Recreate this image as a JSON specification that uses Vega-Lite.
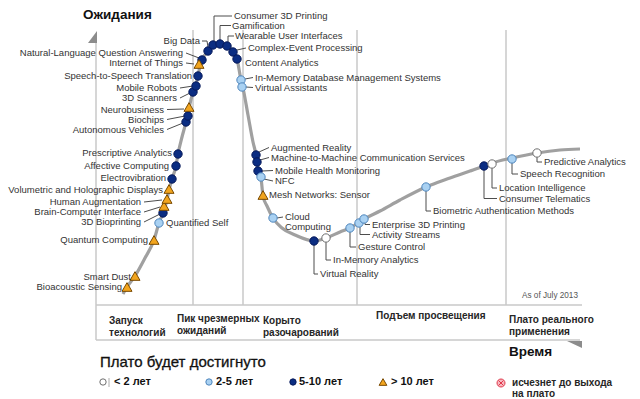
{
  "$schema": "https://vega.github.io/schema/vega-lite/v6.json",
  "width": 640,
  "height": 399,
  "padding": 0,
  "autosize": {"type": "none"},
  "background": "#ffffff",
  "config": {"view": {"stroke": null}},
  "datasets": {
    "curve": [
      {"x": 123, "y": 294}, {"x": 127, "y": 287}, {"x": 135, "y": 276}, {"x": 145, "y": 258}, {"x": 154, "y": 240},
      {"x": 159, "y": 223}, {"x": 163, "y": 213}, {"x": 167, "y": 200}, {"x": 169, "y": 190}, {"x": 172, "y": 179},
      {"x": 176, "y": 166}, {"x": 178, "y": 154}, {"x": 182, "y": 137}, {"x": 186, "y": 122}, {"x": 189, "y": 108},
      {"x": 193, "y": 92}, {"x": 196, "y": 84}, {"x": 198, "y": 76}, {"x": 200, "y": 66}, {"x": 202, "y": 60},
      {"x": 208, "y": 51}, {"x": 213, "y": 46}, {"x": 220, "y": 44}, {"x": 227, "y": 45}, {"x": 233, "y": 52},
      {"x": 237, "y": 59}, {"x": 241, "y": 80}, {"x": 243, "y": 88}, {"x": 248, "y": 115}, {"x": 253, "y": 142},
      {"x": 256, "y": 155}, {"x": 258, "y": 170}, {"x": 261, "y": 178}, {"x": 263, "y": 196}, {"x": 267, "y": 206},
      {"x": 273, "y": 218}, {"x": 282, "y": 228}, {"x": 295, "y": 235}, {"x": 314, "y": 241}, {"x": 326, "y": 238},
      {"x": 340, "y": 232}, {"x": 350, "y": 228}, {"x": 364, "y": 219}, {"x": 380, "y": 211}, {"x": 400, "y": 200},
      {"x": 426, "y": 187}, {"x": 450, "y": 178}, {"x": 470, "y": 171}, {"x": 484, "y": 166}, {"x": 492, "y": 163},
      {"x": 512, "y": 158}, {"x": 537, "y": 153}, {"x": 560, "y": 150}, {"x": 580, "y": 149}
    ],
    "frame": [
      {"x": 96, "y": 42, "x2": 96, "y2": 340},
      {"x": 96, "y": 305, "x2": 582, "y2": 305},
      {"x": 96, "y": 340, "x2": 580, "y2": 340},
      {"x": 193, "y": 30, "x2": 193, "y2": 305},
      {"x": 243, "y": 30, "x2": 243, "y2": 305},
      {"x": 357, "y": 30, "x2": 357, "y2": 305},
      {"x": 506, "y": 30, "x2": 506, "y2": 305},
      {"x": 109, "y": 378, "x2": 109, "y2": 387}
    ],
    "items": [
      {"name": "Bioacoustic Sensing", "cat": ">10", "x": 127, "y": 287},
      {"name": "Smart Dust", "cat": ">10", "x": 135, "y": 276},
      {"name": "Quantum Computing", "cat": ">10", "x": 154, "y": 240},
      {"name": "Quantified Self", "cat": "2-5", "x": 159, "y": 223},
      {"name": "3D Bioprinting", "cat": "5-10", "x": 163, "y": 213},
      {"name": "Brain-Computer Interface", "cat": ">10", "x": 164, "y": 206},
      {"name": "Human Augmentation", "cat": ">10", "x": 167, "y": 199},
      {"name": "Volumetric and Holographic Displays", "cat": ">10", "x": 169, "y": 189},
      {"name": "Electrovibration", "cat": "5-10", "x": 172, "y": 179},
      {"name": "Affective Computing", "cat": "5-10", "x": 176, "y": 166},
      {"name": "Prescriptive Analytics", "cat": "5-10", "x": 178, "y": 154},
      {"name": "Autonomous Vehicles", "cat": "5-10", "x": 186, "y": 122},
      {"name": "Biochips", "cat": "5-10", "x": 188, "y": 116},
      {"name": "Neurobusiness", "cat": ">10", "x": 189, "y": 107},
      {"name": "3D Scanners", "cat": "5-10", "x": 193, "y": 92},
      {"name": "Mobile Robots", "cat": "5-10", "x": 196, "y": 86},
      {"name": "Speech-to-Speech Translation", "cat": "5-10", "x": 198, "y": 76},
      {"name": "Internet of Things", "cat": ">10", "x": 199, "y": 64},
      {"name": "Natural-Language Question Answering", "cat": "5-10", "x": 202, "y": 60},
      {"name": "Big Data", "cat": "5-10", "x": 208, "y": 51},
      {"name": "Consumer 3D Printing", "cat": "5-10", "x": 213, "y": 45},
      {"name": "Gamification", "cat": "5-10", "x": 220, "y": 44},
      {"name": "Wearable User Interfaces", "cat": "5-10", "x": 227, "y": 46},
      {"name": "Complex-Event Processing", "cat": "5-10", "x": 233, "y": 52},
      {"name": "Content Analytics", "cat": "5-10", "x": 237, "y": 59},
      {"name": "In-Memory Database Management Systems", "cat": "2-5", "x": 241, "y": 80},
      {"name": "Virtual Assistants", "cat": "2-5", "x": 242, "y": 87},
      {"name": "Augmented Reality", "cat": "5-10", "x": 256, "y": 155},
      {"name": "Machine-to-Machine Communication Services", "cat": "5-10", "x": 257, "y": 162},
      {"name": "Mobile Health Monitoring", "cat": "5-10", "x": 258, "y": 171},
      {"name": "NFC", "cat": "2-5", "x": 261, "y": 177},
      {"name": "Mesh Networks: Sensor", "cat": ">10", "x": 263, "y": 195},
      {"name": "Cloud Computing", "cat": "2-5", "x": 273, "y": 218},
      {"name": "Virtual Reality", "cat": "5-10", "x": 314, "y": 241},
      {"name": "In-Memory Analytics", "cat": "<2", "x": 326, "y": 238},
      {"name": "Gesture Control", "cat": "2-5", "x": 350, "y": 228},
      {"name": "Activity Streams", "cat": "2-5", "x": 359, "y": 223},
      {"name": "Enterprise 3D Printing", "cat": "2-5", "x": 364, "y": 219},
      {"name": "Biometric Authentication Methods", "cat": "2-5", "x": 426, "y": 187},
      {"name": "Consumer Telematics", "cat": "5-10", "x": 484, "y": 166},
      {"name": "Location Intelligence", "cat": "<2", "x": 492, "y": 164},
      {"name": "Speech Recognition", "cat": "2-5", "x": 512, "y": 159},
      {"name": "Predictive Analytics", "cat": "<2", "x": 537, "y": 153}
    ],
    "labels": [
      {"text": "Bioacoustic Sensing", "a": "r", "x": 122, "y": 287},
      {"text": "Smart Dust", "a": "r", "x": 131, "y": 277},
      {"text": "Quantum Computing", "a": "r", "x": 148, "y": 240},
      {"text": "Quantified Self", "a": "l", "x": 166, "y": 223},
      {"text": "3D Bioprinting", "a": "r", "x": 141, "y": 222},
      {"text": "Brain-Computer Interface", "a": "r", "x": 141, "y": 212},
      {"text": "Human Augmentation", "a": "r", "x": 141, "y": 202},
      {"text": "Volumetric and Holographic Displays", "a": "r", "x": 163, "y": 190},
      {"text": "Electrovibration", "a": "r", "x": 166, "y": 178},
      {"text": "Affective Computing", "a": "r", "x": 169, "y": 166},
      {"text": "Prescriptive Analytics", "a": "r", "x": 172, "y": 153},
      {"text": "Autonomous Vehicles", "a": "r", "x": 164, "y": 129.5},
      {"text": "Biochips", "a": "r", "x": 164, "y": 119.5},
      {"text": "Neurobusiness", "a": "r", "x": 164, "y": 109.5},
      {"text": "3D Scanners", "a": "r", "x": 177, "y": 98},
      {"text": "Mobile Robots", "a": "r", "x": 177, "y": 88},
      {"text": "Speech-to-Speech Translation", "a": "r", "x": 192, "y": 76},
      {"text": "Internet of Things", "a": "r", "x": 183, "y": 63},
      {"text": "Natural-Language Question Answering", "a": "r", "x": 183, "y": 53},
      {"text": "Big Data", "a": "r", "x": 200, "y": 41},
      {"text": "Consumer 3D Printing", "a": "l", "x": 234, "y": 16},
      {"text": "Gamification", "a": "l", "x": 232, "y": 25.5},
      {"text": "Wearable User Interfaces", "a": "l", "x": 235, "y": 36},
      {"text": "Complex-Event Processing", "a": "l", "x": 248, "y": 48},
      {"text": "Content Analytics", "a": "l", "x": 245, "y": 63},
      {"text": "In-Memory Database Management Systems", "a": "l", "x": 255, "y": 77.5},
      {"text": "Virtual Assistants", "a": "l", "x": 255, "y": 87.5},
      {"text": "Augmented Reality", "a": "l", "x": 271, "y": 147.5},
      {"text": "Machine-to-Machine Communication Services", "a": "l", "x": 271, "y": 157.5},
      {"text": "Mobile Health Monitoring", "a": "l", "x": 275, "y": 170.5},
      {"text": "NFC", "a": "l", "x": 275, "y": 181},
      {"text": "Mesh Networks: Sensor", "a": "l", "x": 269, "y": 195},
      {"text": "Cloud\nComputing", "a": "l", "x": 285, "y": 217},
      {"text": "Virtual Reality", "a": "l", "x": 320, "y": 274},
      {"text": "In-Memory Analytics", "a": "l", "x": 333, "y": 260},
      {"text": "Gesture Control", "a": "l", "x": 358, "y": 247},
      {"text": "Activity Streams", "a": "l", "x": 372, "y": 234.5},
      {"text": "Enterprise 3D Printing", "a": "l", "x": 372, "y": 224.5},
      {"text": "Biometric Authentication Methods", "a": "l", "x": 433, "y": 211},
      {"text": "Consumer Telematics", "a": "l", "x": 499, "y": 198.5},
      {"text": "Location Intelligence", "a": "l", "x": 499, "y": 188},
      {"text": "Speech Recognition", "a": "l", "x": 520, "y": 174},
      {"text": "Predictive Analytics", "a": "l", "x": 544, "y": 162}
    ],
    "segs": [
      {"x": 144, "y": 222, "x2": 160, "y2": 214},
      {"x": 144, "y": 212, "x2": 160, "y2": 207},
      {"x": 144, "y": 202, "x2": 162, "y2": 200},
      {"x": 167, "y": 129.5, "x2": 183, "y2": 123},
      {"x": 167, "y": 119.5, "x2": 185, "y2": 116},
      {"x": 167, "y": 109.5, "x2": 184, "y2": 109},
      {"x": 180, "y": 98, "x2": 190, "y2": 93},
      {"x": 180, "y": 88, "x2": 193, "y2": 86},
      {"x": 186, "y": 63, "x2": 194, "y2": 64},
      {"x": 186, "y": 53, "x2": 199, "y2": 58},
      {"x": 202, "y": 41, "x2": 207, "y2": 41},
      {"x": 207, "y": 41, "x2": 208, "y2": 47},
      {"x": 214, "y": 16, "x2": 214, "y2": 41},
      {"x": 214, "y": 16, "x2": 232, "y2": 16},
      {"x": 220, "y": 25.5, "x2": 220, "y2": 40},
      {"x": 220, "y": 25.5, "x2": 231, "y2": 25.5},
      {"x": 228, "y": 36, "x2": 228, "y2": 42},
      {"x": 228, "y": 36, "x2": 234, "y2": 36},
      {"x": 237, "y": 50, "x2": 246, "y2": 48},
      {"x": 245, "y": 79, "x2": 253, "y2": 77.5},
      {"x": 246, "y": 87, "x2": 253, "y2": 87.5},
      {"x": 259, "y": 152, "x2": 269, "y2": 147.5},
      {"x": 260, "y": 160, "x2": 269, "y2": 157.5},
      {"x": 262, "y": 171, "x2": 273, "y2": 170.5},
      {"x": 264, "y": 179, "x2": 273, "y2": 181},
      {"x": 277, "y": 218, "x2": 283, "y2": 217},
      {"x": 314, "y": 245, "x2": 314, "y2": 274},
      {"x": 314, "y": 274, "x2": 318, "y2": 274},
      {"x": 326, "y": 242, "x2": 326, "y2": 260},
      {"x": 326, "y": 260, "x2": 331, "y2": 260},
      {"x": 350, "y": 232, "x2": 350, "y2": 247},
      {"x": 350, "y": 247, "x2": 356, "y2": 247},
      {"x": 360, "y": 227, "x2": 360, "y2": 234.5},
      {"x": 360, "y": 234.5, "x2": 370, "y2": 234.5},
      {"x": 365, "y": 223, "x2": 365, "y2": 224.5},
      {"x": 365, "y": 224.5, "x2": 370, "y2": 224.5},
      {"x": 426, "y": 191, "x2": 426, "y2": 211},
      {"x": 426, "y": 211, "x2": 431, "y2": 211},
      {"x": 484, "y": 170, "x2": 484, "y2": 198.5},
      {"x": 484, "y": 198.5, "x2": 497, "y2": 198.5},
      {"x": 492, "y": 168, "x2": 492, "y2": 188},
      {"x": 492, "y": 188, "x2": 497, "y2": 188},
      {"x": 512, "y": 163, "x2": 512, "y2": 174},
      {"x": 512, "y": 174, "x2": 518, "y2": 174},
      {"x": 537, "y": 157, "x2": 537, "y2": 162},
      {"x": 537, "y": 162, "x2": 542, "y2": 162}
    ],
    "phases": [
      {"text": "Запуск\nтехнологий", "x": 109, "y": 321},
      {"text": "Пик чрезмерных\nожиданий", "x": 177, "y": 319},
      {"text": "Корыто\nразочарований", "x": 263, "y": 321},
      {"text": "Подъем просвещения", "x": 376, "y": 316},
      {"text": "Плато реального\nприменения", "x": 509, "y": 320}
    ],
    "legend": [
      {"cat": "<2", "x": 103, "y": 382, "text": "< 2 лет", "tx": 114},
      {"cat": "2-5", "x": 209, "y": 382, "text": "2-5 лет", "tx": 216},
      {"cat": "5-10", "x": 293, "y": 382, "text": "5-10 лет", "tx": 299},
      {"cat": ">10", "x": 383, "y": 382, "text": "> 10 лет", "tx": 391}
    ],
    "titles": [
      {"text": "Ожидания", "x": 83, "y": 15, "kind": "axis"},
      {"text": "Время", "x": 509, "y": 352, "kind": "axis"},
      {"text": "Плато будет достигнуто", "x": 100, "y": 362, "kind": "legend"}
    ]
  },
  "encoding": {
    "x": {"field": "x", "type": "quantitative", "scale": {"domain": [0, 640], "nice": false, "zero": false}, "axis": null},
    "y": {"field": "y", "type": "quantitative", "scale": {"domain": [0, 399], "nice": false, "zero": false, "reverse": true}, "axis": null}
  },
  "layer": [
    {
      "data": {"name": "frame"},
      "mark": {"type": "rule", "color": "#c8c8c8", "strokeWidth": 1.5},
      "encoding": {"x2": {"field": "x2"}, "y2": {"field": "y2"}}
    },
    {
      "data": {"values": [{"x": 92.5, "y": 37}]},
      "mark": {"type": "point", "filled": true, "color": "#8c8c8c", "opacity": 1, "size": 144, "shape": "M0.75,-1L0.75,1L-0.75,1Z"}
    },
    {
      "data": {"values": [{"x": 574.5, "y": 344.5}]},
      "mark": {"type": "point", "filled": true, "color": "#8c8c8c", "opacity": 1, "size": 225, "shape": "M-1,-0.47L1,-0.47L1,0.47Z"}
    },
    {
      "data": {"name": "curve"},
      "mark": {"type": "line", "color": "#a0a0a0", "strokeWidth": 3.2, "interpolate": "monotone"}
    },
    {
      "data": {"name": "segs"},
      "mark": {"type": "rule", "color": "#4d4d4d", "strokeWidth": 1},
      "encoding": {"x2": {"field": "x2"}, "y2": {"field": "y2"}}
    },
    {
      "data": {"name": "items"},
      "transform": [{"filter": "datum.cat !== '>10'"}],
      "mark": {"type": "point", "filled": true, "shape": "circle", "size": 70, "strokeWidth": 1, "opacity": 1},
      "encoding": {
        "fill": {"field": "cat", "type": "nominal", "scale": {"domain": ["<2", "2-5", "5-10", ">10"], "range": ["#ffffff", "#a9d1f2", "#0b2d82", "#f2a51e"]}, "legend": null},
        "stroke": {"field": "cat", "type": "nominal", "scale": {"domain": ["<2", "2-5", "5-10", ">10"], "range": ["#6e6e6e", "#4f86bd", "#06195a", "#7a4a00"]}, "legend": null}
      }
    },
    {
      "data": {"name": "items"},
      "transform": [{"filter": "datum.cat === '>10'"}],
      "mark": {"type": "point", "filled": true, "shape": "triangle-up", "size": 100, "strokeWidth": 1, "opacity": 1},
      "encoding": {
        "fill": {"field": "cat", "type": "nominal", "legend": null},
        "stroke": {"field": "cat", "type": "nominal", "legend": null}
      }
    },
    {
      "data": {"name": "labels"},
      "transform": [{"filter": "datum.a === 'r'"}],
      "mark": {"type": "text", "align": "right", "baseline": "middle", "font": "Liberation Sans, Arial, sans-serif", "fontSize": 9.5, "color": "#333333", "lineBreak": "\n", "lineHeight": 10},
      "encoding": {"text": {"field": "text"}}
    },
    {
      "data": {"name": "labels"},
      "transform": [{"filter": "datum.a === 'l'"}],
      "mark": {"type": "text", "align": "left", "baseline": "middle", "font": "Liberation Sans, Arial, sans-serif", "fontSize": 9.5, "color": "#333333", "lineBreak": "\n", "lineHeight": 10},
      "encoding": {"text": {"field": "text"}}
    },
    {
      "data": {"values": [{"x": 522, "y": 296, "text": "As of July 2013"}]},
      "mark": {"type": "text", "align": "left", "baseline": "middle", "font": "Liberation Sans, Arial, sans-serif", "fontSize": 8.2, "color": "#555555"},
      "encoding": {"text": {"field": "text"}}
    },
    {
      "data": {"name": "phases"},
      "mark": {"type": "text", "align": "left", "baseline": "middle", "font": "Liberation Sans, Arial, sans-serif", "fontSize": 10, "fontWeight": "bold", "color": "#262626", "lineBreak": "\n", "lineHeight": 12},
      "encoding": {"text": {"field": "text"}}
    },
    {
      "data": {"name": "titles"},
      "transform": [{"filter": "datum.kind === 'axis'"}],
      "mark": {"type": "text", "align": "left", "baseline": "middle", "font": "Liberation Sans, Arial, sans-serif", "fontSize": 13.5, "fontWeight": "bold", "color": "#111111"},
      "encoding": {"text": {"field": "text"}}
    },
    {
      "data": {"name": "titles"},
      "transform": [{"filter": "datum.kind === 'legend'"}],
      "mark": {"type": "text", "align": "left", "baseline": "middle", "font": "Liberation Sans, Arial, sans-serif", "fontSize": 15, "color": "#111111", "stroke": "#111111", "strokeWidth": 0.3},
      "encoding": {"text": {"field": "text"}}
    },
    {
      "data": {"name": "legend"},
      "transform": [{"filter": "datum.cat !== '>10'"}],
      "mark": {"type": "point", "filled": true, "shape": "circle", "size": 40, "strokeWidth": 1, "opacity": 1},
      "encoding": {
        "fill": {"field": "cat", "type": "nominal", "legend": null},
        "stroke": {"field": "cat", "type": "nominal", "legend": null}
      }
    },
    {
      "data": {"name": "legend"},
      "transform": [{"filter": "datum.cat === '>10'"}],
      "mark": {"type": "point", "filled": true, "shape": "triangle-up", "size": 60, "strokeWidth": 1, "opacity": 1},
      "encoding": {
        "fill": {"field": "cat", "type": "nominal", "legend": null},
        "stroke": {"field": "cat", "type": "nominal", "legend": null}
      }
    },
    {
      "data": {"name": "legend"},
      "mark": {"type": "text", "align": "left", "baseline": "middle", "font": "Liberation Sans, Arial, sans-serif", "fontSize": 11, "fontWeight": "bold", "color": "#111111"},
      "encoding": {"x": {"field": "tx", "type": "quantitative"}, "text": {"field": "text"}}
    },
    {
      "data": {"values": [{"x": 501, "y": 383}]},
      "mark": {"type": "point", "filled": true, "fill": "#f7b8c0", "stroke": "#e0374a", "strokeWidth": 1, "opacity": 1, "size": 64, "shape": "M-1,0A1,1,0,1,1,1,0A1,1,0,1,1,-1,0ZM-0.6,-0.6L0.6,0.6M0.6,-0.6L-0.6,0.6"}
    },
    {
      "data": {"values": [{"x": 512, "y": 383, "text": "исчезнет до выхода\nна плато"}]},
      "mark": {"type": "text", "align": "left", "baseline": "middle", "font": "Liberation Sans, Arial, sans-serif", "fontSize": 10, "fontWeight": "bold", "color": "#262626", "lineBreak": "\n", "lineHeight": 11},
      "encoding": {"text": {"field": "text"}}
    }
  ]
}
